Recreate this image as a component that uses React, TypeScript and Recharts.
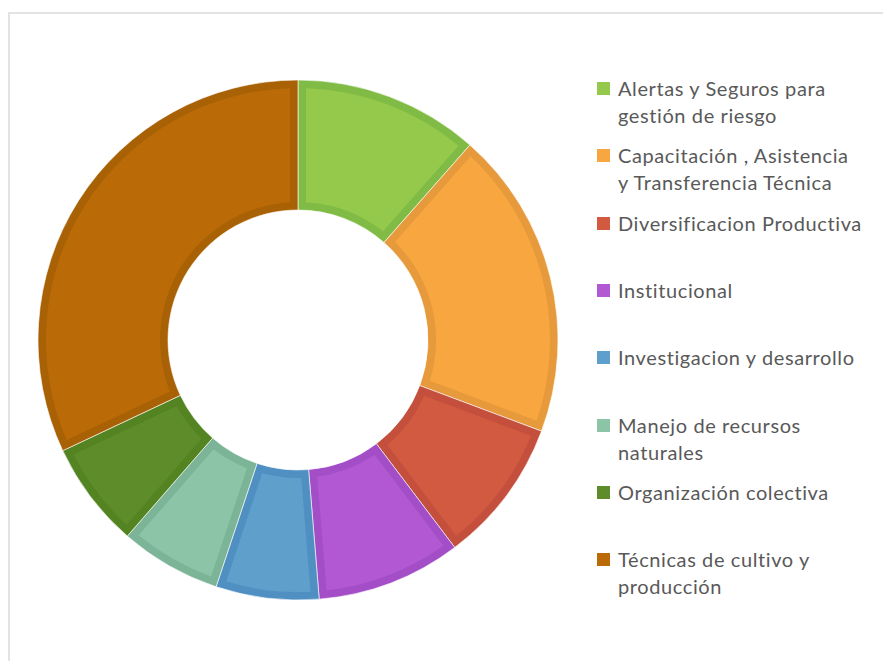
import React from "react";
import { PieChart, Pie, Cell } from "recharts";

if (typeof document !== "undefined") document.body.style.margin = "0";

// legend lines as they wrap in the original
const categoryLines = [
  ["Alertas y Seguros para", "gestión de riesgo"],
  ["Capacitación , Asistencia", "y Transferencia Técnica"],
  ["Diversificacion Productiva"],
  ["Institucional"],
  ["Investigacion y desarrollo"],
  ["Manejo de recursos", "naturales"],
  ["Organización colectiva"],
  ["Técnicas de cultivo y", "producción"],
];
const categories = categoryLines.map((l) => l.join(" "));

// share of each category (%)
const shares = [11.5, 19.2, 9.0, 9.0, 6.4, 6.3, 6.6, 32.0];

const fills = ["#95C94B", "#F8A63F", "#D15A41", "#B158D2", "#5F9FCC", "#8BC4A7", "#5E8C2B", "#BA6B07"];
const borders = ["#80BC45", "#E69A3B", "#C44F3D", "#A34DC7", "#508FC2", "#7BB497", "#548322", "#A96105"];

const data = categories.map((name, i) => ({ name, value: shares[i] }));

const BORDER = 8;
const RAD = Math.PI / 180;

const pt = (cx: number, cy: number, r: number, a: number) => [cx + r * Math.cos(a * RAD), cy - r * Math.sin(a * RAD)];

// ring sector, optionally shrunk by a constant inset on every side
const sectorPath = (cx: number, cy: number, r1: number, r2: number, s: number, e: number, inset: number) => {
  const so = s - (inset ? Math.asin(inset / r2) / RAD : 0);
  const eo = e + (inset ? Math.asin(inset / r2) / RAD : 0);
  const si = s - (inset ? Math.asin(inset / r1) / RAD : 0);
  const ei = e + (inset ? Math.asin(inset / r1) / RAD : 0);
  const large = so - eo > 180 ? 1 : 0;
  const largeIn = si - ei > 180 ? 1 : 0;
  const [x1, y1] = pt(cx, cy, r2, so);
  const [x2, y2] = pt(cx, cy, r2, eo);
  const [x3, y3] = pt(cx, cy, r1, ei);
  const [x4, y4] = pt(cx, cy, r1, si);
  return `M${x1},${y1} A${r2},${r2} 0 ${large} 1 ${x2},${y2} L${x3},${y3} A${r1},${r1} 0 ${largeIn} 0 ${x4},${y4} Z`;
};

const SliceShape = (props: any) => {
  const { cx, cy, innerRadius, outerRadius, startAngle, endAngle, index } = props;
  const s = Math.max(startAngle, endAngle);
  const e = Math.min(startAngle, endAngle);
  const i = index ?? categories.indexOf(props.name);
  return (
    <g>
      <path d={sectorPath(cx, cy, innerRadius, outerRadius, s, e, 0)} fill={borders[i]} stroke="#ffffff" strokeOpacity={0.6} strokeWidth={1} />
      <path d={sectorPath(cx, cy, innerRadius + BORDER, outerRadius - BORDER, s, e, BORDER)} fill={fills[i]} />
    </g>
  );
};

const LegendBox = () => (
  <div style={{ position: "absolute", left: 597, top: 75, fontFamily: "Lato, 'Noto Sans', sans-serif", fontSize: 20, letterSpacing: 0.6, color: "#595959" }}>
    {categoryLines.map((lines, i) => (
      <div key={i} style={{ position: "absolute", top: i * 67.3, left: 0, width: 280, lineHeight: "27px" }}>
        <span style={{ position: "absolute", left: 0, top: 7, width: 13, height: 13, background: fills[i] }} />
        {lines.map((t, j) => (
          <div key={j} style={{ marginLeft: 21, whiteSpace: "nowrap" }}>{t}</div>
        ))}
      </div>
    ))}
  </div>
);

export default function App() {
  return (
    <div style={{ position: "relative", width: 883, height: 661, background: "#fff", overflow: "hidden" }}>
      <div style={{ position: "absolute", left: 8, top: 12, right: -10, bottom: -10, borderTop: "2px solid #e3e3e3", borderLeft: "2px solid #e3e3e3" }} />
      <PieChart width={883} height={661} margin={{ top: 0, right: 0, bottom: 0, left: 0 }} style={{ position: "absolute", left: 0, top: 0 }}>
        <Pie
          data={data}
          dataKey="value"
          nameKey="name"
          cx={298}
          cy={340}
          innerRadius={130}
          outerRadius={260}
          startAngle={90}
          endAngle={-270}
          stroke="none"
          shape={SliceShape}
          isAnimationActive={false}
        >
          {data.map((d, i) => (
            <Cell key={d.name} fill={fills[i]} />
          ))}
        </Pie>
      </PieChart>
      <LegendBox />
    </div>
  );
}
